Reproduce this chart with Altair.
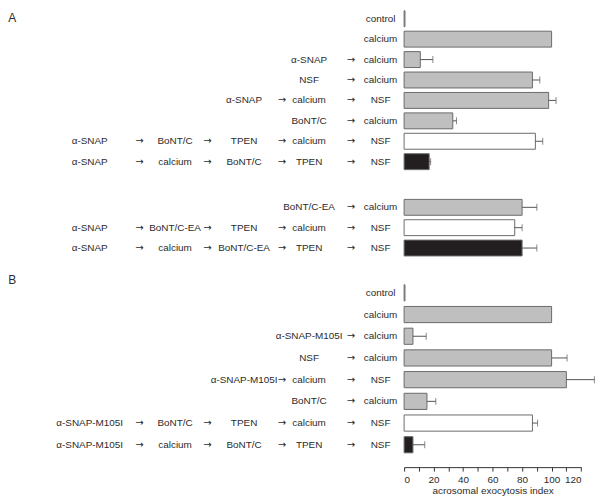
import altair as alt
import pandas as pd

FONT = "Liberation Sans"

# ---- Panel A, upper group ----
a1_steps = [
    ["control"],
    ["calcium"],
    ["α-SNAP", "calcium"],
    ["NSF", "calcium"],
    ["α-SNAP", "calcium", "NSF"],
    ["BoNT/C", "calcium"],
    ["α-SNAP", "BoNT/C", "TPEN", "calcium", "NSF"],
    ["α-SNAP", "calcium", "BoNT/C", "TPEN", "NSF"],
]
a1_values = [0.6, 100, 11, 87, 98, 33, 89, 17]
a1_errors = [0, 0, 8.5, 5, 5, 2.5, 5, 1]
a1_styles = ["gray", "gray", "gray", "gray", "gray", "gray", "white", "black"]

# ---- Panel A, lower group ----
a2_steps = [
    ["BoNT/C-EA", "calcium"],
    ["α-SNAP", "BoNT/C-EA", "TPEN", "calcium", "NSF"],
    ["α-SNAP", "calcium", "BoNT/C-EA", "TPEN", "NSF"],
]
a2_values = [80, 75, 80]
a2_errors = [10, 5, 10]
a2_styles = ["gray", "white", "black"]

# ---- Panel B ----
b_steps = [
    ["control"],
    ["calcium"],
    ["α-SNAP-M105I", "calcium"],
    ["NSF", "calcium"],
    ["α-SNAP-M105I", "calcium", "NSF"],
    ["BoNT/C", "calcium"],
    ["α-SNAP-M105I", "BoNT/C", "TPEN", "calcium", "NSF"],
    ["α-SNAP-M105I", "calcium", "BoNT/C", "TPEN", "NSF"],
]
b_values = [0.6, 100, 6, 100, 110, 15.5, 87, 6]
b_errors = [0, 0, 9, 10.5, 19, 6, 3.5, 8]
b_styles = ["gray", "gray", "gray", "gray", "gray", "gray", "white", "black"]

tick_values = [0, 10, 20, 30, 40, 50, 60, 70, 80, 90, 100, 110, 120]

style_domain = ["gray", "white", "black"]
style_range = ["#bfbfbf", "#ffffff", "#231f20"]

LABEL_W = 398.7
BAR_W = 178.3

# column layout of the step sequences (item slots even, arrows odd), left of the bars
slot_domain = [0, 1, 2, 3, 4, 5, 6, 7, 8]
slot_range = [p - LABEL_W for p in [82, 132, 168, 200.5, 237.5, 275.5, 303, 345, 375]]


def block(steps, values, errors, styles, step, pad_inner, letter=None, letter_y=0, axis=False):
    n = len(steps)
    height = step * (n - pad_inner)
    lab_rows = []
    for r, seq in enumerate(steps):
        k = len(seq)
        for i, s in enumerate(seq):
            slot = 2 * (5 - k + i)
            lab_rows.append({"row": r, "slot": slot, "label": s, "arrow": False})
            if i < k - 1:
                lab_rows.append({"row": r, "slot": slot + 1, "label": "→", "arrow": True})
    lab_df = pd.DataFrame(lab_rows)
    bar_df = pd.DataFrame({
        "row": list(range(n)),
        "value": values,
        "err": errors,
        "style": styles,
    })
    bar_df["hi"] = bar_df["value"] + bar_df["err"]

    yscale = alt.Scale(paddingInner=pad_inner, paddingOuter=0)
    y = alt.Y("row:O", scale=yscale, axis=None)

    if axis:
        xaxis = alt.Axis(
            values=tick_values,
            labelExpr="datum.value % 20 == 0 ? datum.label : ''",
            labelOverlap=False,
            title="acrosomal exocytosis index",
            offset=14.4, tickSize=4, grid=False,
            domainColor="#333", tickColor="#333",
            labelFont=FONT, labelFontSize=10, labelColor="#2b2b2b", labelPadding=3,
            titleFont=FONT, titleFontSize=10, titleFontWeight="normal", titleColor="#2b2b2b",
            titlePadding=2,
        )
    else:
        xaxis = None
    xscale = alt.Scale(domain=[0, 120], nice=False, zero=True)
    bars = alt.Chart(bar_df).mark_bar(stroke="#6b6b6b", strokeWidth=1).encode(
        x=alt.X("value:Q", scale=xscale, axis=xaxis, title="acrosomal exocytosis index"),
        y=y,
        fill=alt.Fill("style:N", scale=alt.Scale(domain=style_domain, range=style_range), legend=None),
    )
    rule = alt.Chart(bar_df).transform_filter("datum.err > 0").mark_rule(color="#555", strokeWidth=1).encode(
        x=alt.X("value:Q", scale=xscale, axis=xaxis, title="acrosomal exocytosis index"), x2="hi:Q", y=y
    )
    cap = alt.Chart(bar_df).transform_filter("datum.err > 0").mark_tick(
        color="#555", orient="vertical", size=7, thickness=1
    ).encode(x=alt.X("hi:Q", scale=xscale, axis=xaxis, title="acrosomal exocytosis index"), y=y)
    data_layer = alt.layer(bars, rule, cap)

    slot_x = alt.X("slot:Q", scale=alt.Scale(domain=slot_domain, range=slot_range, nice=False, zero=False), axis=None)
    words = alt.Chart(lab_df).transform_filter("!datum.arrow").mark_text(
        font=FONT, fontSize=10, color="#2b2b2b", align="center", baseline="middle"
    ).encode(x=slot_x, y=y, text="label:N")
    arrows = alt.Chart(lab_df).transform_filter("datum.arrow").mark_text(
        font="DejaVu Sans", fontSize=10, color="#2b2b2b", align="center", baseline="middle"
    ).encode(x=slot_x, y=y, text="label:N")
    layers = [data_layer, alt.layer(words, arrows)]
    if letter:
        lt = alt.Chart(pd.DataFrame({"t": [letter]})).mark_text(
            font=FONT, fontSize=12, color="#2b2b2b", align="left", baseline="middle"
        ).encode(x=alt.value(-LABEL_W), y=alt.value(letter_y), text="t:N")
        layers.append(lt)
    return alt.layer(*layers).resolve_scale(x="independent").properties(width=BAR_W, height=height)


blockA1 = block(a1_steps, a1_values, a1_errors, a1_styles, 20.57, 0.22, letter="A", letter_y=7)
blockA2 = block(a2_steps, a2_values, a2_errors, a2_styles, 20.5, 0.22)
blockB = block(b_steps, b_values, b_errors, b_styles, 21.86, 0.255, letter="B", letter_y=-5, axis=True)

chart = alt.vconcat(blockA1, blockA2, blockB, spacing=29, bounds="flush").properties(
    padding=0
).configure_view(stroke=None)

chart.save("out.html", embed_options={"renderer": "svg", "actions": False})
